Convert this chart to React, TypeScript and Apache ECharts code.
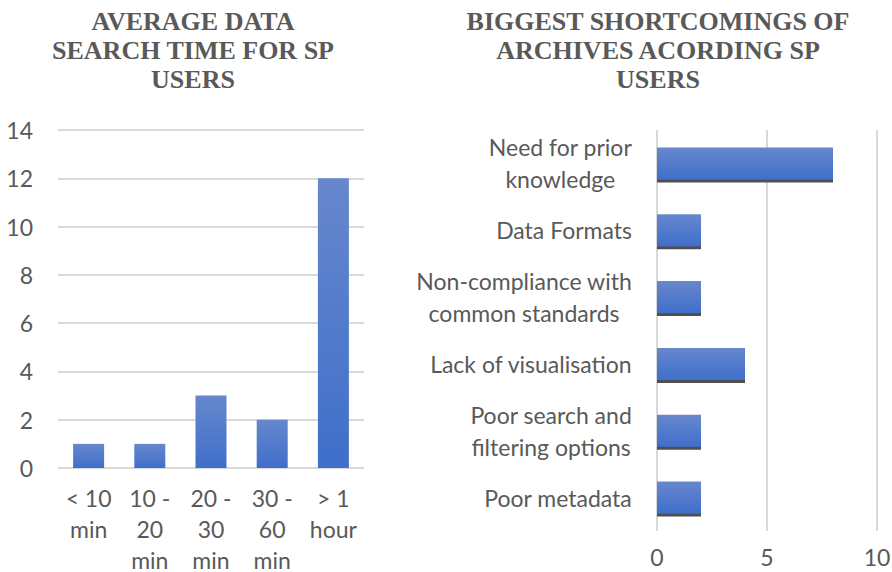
import React, { useEffect, useRef } from "react";
import * as echarts from "echarts";

const timeCategories = ["< 10\nmin", "10 -\n20\nmin", "20 -\n30\nmin", "30 -\n60\nmin", "> 1\nhour"];
const timeValues = [1, 1, 3, 2, 12];

const shortcomingCategories = [
  "Need for prior\nknowledge",
  "Data Formats",
  "Non-compliance with\ncommon standards",
  "Lack of visualisation",
  "Poor search and\nfiltering options",
  "Poor metadata",
];
const shortcomingValues = [8, 2, 2, 4, 2, 2];

const leftTitle = "AVERAGE DATA\nSEARCH TIME FOR SP\nUSERS";
const rightTitle = "BIGGEST SHORTCOMINGS OF\nARCHIVES ACORDING SP\nUSERS";

const FONT = "Lato, 'Noto Sans', sans-serif";
const TEXT = "#595959";
const GRID = "#d9d9d9";
const FS = 23;

const barGradient = () =>
  new echarts.graphic.LinearGradient(0, 0, 0, 1, [
    { offset: 0, color: "#6787cd" },
    { offset: 1, color: "#3f6fca" },
  ]);

export default function App() {
  const ref = useRef<HTMLDivElement>(null);
  useEffect(() => {
    if (!ref.current) return;
    const chart = echarts.init(ref.current, undefined, { renderer: "svg" });
    chart.setOption({
      animation: false,
      backgroundColor: "#ffffff",
      graphic: [
        {
          type: "text",
          x: 193,
          y: 7,
          style: {
            text: leftTitle,
            textAlign: "center",
            fill: TEXT,
            font: "bold 26px 'Liberation Serif', 'Times New Roman', serif",
            lineHeight: 29,
          },
        },
        {
          type: "text",
          x: 658,
          y: 7,
          style: {
            text: rightTitle,
            textAlign: "center",
            fill: TEXT,
            font: "bold 26px 'Liberation Serif', 'Times New Roman', serif",
            lineHeight: 29,
          },
        },
      ],
      grid: [
        { left: 58, top: 130, width: 306, height: 338, outerBoundsMode: "none" },
        { left: 657, top: 130, width: 220, height: 401, outerBoundsMode: "none" },
      ],
      xAxis: [
        {
          gridIndex: 0,
          type: "category",
          data: timeCategories,
          axisLine: { show: false },
          axisTick: { show: false },
          axisLabel: {
            color: TEXT,
            fontFamily: FONT,
            fontSize: FS,
            lineHeight: 31,
            margin: 14,
            interval: 0,
          },
        },
        {
          gridIndex: 1,
          type: "value",
          min: 0,
          max: 10,
          interval: 5,
          axisLine: { show: false },
          axisTick: { show: false },
          splitLine: { lineStyle: { color: GRID, width: 2 } },
          axisLabel: { color: TEXT, fontFamily: FONT, fontSize: FS, margin: 14 },
        },
      ],
      yAxis: [
        {
          gridIndex: 0,
          type: "value",
          min: 0,
          max: 14,
          interval: 2,
          axisLine: { show: false },
          axisTick: { show: false },
          splitLine: { lineStyle: { color: GRID, width: 2 } },
          axisLabel: { color: TEXT, fontFamily: FONT, fontSize: FS, margin: 25 },
        },
        {
          gridIndex: 1,
          type: "category",
          inverse: true,
          data: shortcomingCategories,
          axisLine: { show: false },
          axisTick: { show: false },
          axisLabel: {
            interval: 0,
            margin: 25,
            color: TEXT,
            fontFamily: FONT,
            fontSize: FS,
            lineHeight: 32,
            formatter: (v: string) => v.split("\n").map((s) => `{c|${s}}`).join("\n"),
            rich: {
              c: { align: "center", color: TEXT, fontFamily: FONT, fontSize: FS, lineHeight: 32 },
            },
          },
        },
      ],
      series: [
        {
          type: "bar",
          xAxisIndex: 0,
          yAxisIndex: 0,
          data: timeValues,
          barWidth: 31,
          itemStyle: { color: barGradient() },
        },
        {
          type: "bar",
          xAxisIndex: 1,
          yAxisIndex: 1,
          data: shortcomingValues,
          barWidth: 32,
          itemStyle: {
            color: barGradient(),
            shadowColor: "#505050",
            shadowBlur: 0,
            shadowOffsetY: 3,
            shadowOffsetX: 0,
          },
        },
      ],
    });
    return () => chart.dispose();
  }, []);
  return (
    <div
      ref={ref}
      style={{ position: "absolute", left: 0, top: 0, width: 892, height: 572 }}
    />
  );
}
